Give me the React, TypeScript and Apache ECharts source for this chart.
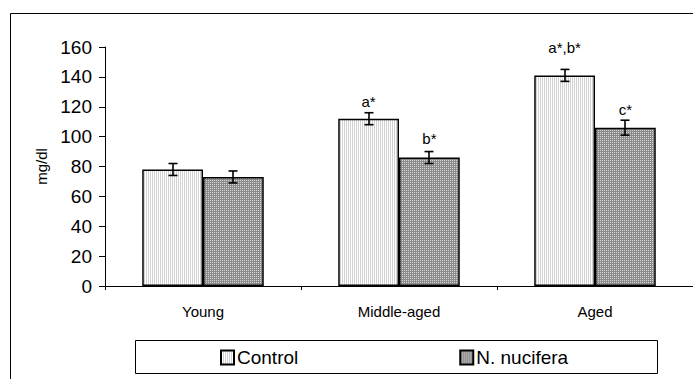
import React, { useEffect, useRef } from "react";
import * as echarts from "echarts";

const categories = ["Young", "Middle-aged", "Aged"];
const controlValues = [78, 112, 141];
const nuciferaValues = [73, 86, 106];
const controlErrors = [4, 4, 4];
const nuciferaErrors = [4, 4, 5];
const controlMarks = ["", "a*", "a*,b*"];
const nuciferaMarks = ["", "b*", "c*"];
const controlMarkGap = [0, 10, 20];
const nuciferaMarkGap = [0, 12, 11];
const seriesNames = ["Control", "N. nucifera"];
const yTicks = { min: 0, max: 160, interval: 20 };

const FONT = "'Liberation Sans', Arial, sans-serif";

function makePattern(kind: "light" | "dark"): any {
  const c = document.createElement("canvas");
  c.width = 2;
  c.height = 2;
  const ctx = c.getContext("2d")!;
  if (kind === "light") {
    ctx.fillStyle = "#ffffff";
    ctx.fillRect(0, 0, 2, 2);
    ctx.fillStyle = "#d0d0d0";
    ctx.fillRect(0, 0, 1, 2);
  } else {
    ctx.fillStyle = "#8a8a8a";
    ctx.fillRect(0, 0, 2, 2);
    ctx.fillStyle = "#d8d8d8";
    ctx.fillRect(0, 0, 1, 1);
  }
  return { image: c, repeat: "repeat" };
}

export default function App() {
  const ref = useRef<HTMLDivElement>(null);
  useEffect(() => {
    if (!ref.current) return;
    const chart = echarts.init(ref.current, null, { renderer: "svg" });
    const barFrac = 0.62;
    const errData: any[] = [];
    categories.forEach((_, i) => {
      errData.push([i, controlValues[i], controlErrors[i], -1]);
      errData.push([i, nuciferaValues[i], nuciferaErrors[i], 1]);
    });
    const mkData = (vals: number[], marks: string[], gaps: number[]) =>
      vals.map((v, i) =>
        marks[i]
          ? {
              value: v,
              label: {
                show: true,
                position: "top",
                formatter: marks[i],
                distance: gaps[i],
                fontFamily: FONT,
                fontSize: 15,
                color: "#000",
              },
            }
          : v
      );
    chart.setOption({
      animation: false,
      backgroundColor: "#ffffff",
      textStyle: { fontFamily: FONT },
      grid: { left: 105, top: 47, width: 592, height: 239, containLabel: false },
      graphic: [
        {
          type: "rect",
          shape: { x: 10.5, y: 13.5, width: 720, height: 420 },
          style: { fill: "none", stroke: "#000", lineWidth: 1 },
          silent: true,
          z: -1,
        },
        {
          type: "rect",
          shape: { x: 135.5, y: 340.5, width: 522, height: 33 },
          style: { fill: "#fff", stroke: "#000", lineWidth: 1 },
          silent: true,
          z: -1,
        },
      ],
      legend: {
        data: seriesNames,
        left: 220,
        top: 348,
        icon: "rect",
        itemWidth: 13,
        itemHeight: 14,
        itemGap: 161,
        padding: 0,
        textStyle: { fontFamily: FONT, fontSize: 19, color: "#000", padding: [0, 0, 0, -2] },
      },
      xAxis: {
        type: "category",
        data: categories,
        axisLine: { lineStyle: { color: "#000", width: 1 } },
        axisTick: { show: true, length: 4, lineStyle: { color: "#000" } },
        axisLabel: { fontFamily: FONT, fontSize: 15, color: "#000", margin: 18 },
      },
      yAxis: {
        type: "value",
        min: yTicks.min,
        max: yTicks.max,
        interval: yTicks.interval,
        name: "mg/dl",
        nameLocation: "middle",
        nameGap: 52,
        nameTextStyle: { fontFamily: FONT, fontSize: 15, color: "#000" },
        axisLine: { show: true, lineStyle: { color: "#000", width: 1 } },
        axisTick: { show: true, length: 6, lineStyle: { color: "#000" } },
        splitLine: { show: false },
        axisLabel: { fontFamily: FONT, fontSize: 19, color: "#000", margin: 13 },
      },
      series: [
        {
          name: seriesNames[0],
          type: "bar",
          data: mkData(controlValues, controlMarks, controlMarkGap),
          barGap: "0%",
          barCategoryGap: "38%",
          itemStyle: { color: makePattern("light"), borderColor: "#000", borderWidth: 1.5 },
        },
        {
          name: seriesNames[1],
          type: "bar",
          data: mkData(nuciferaValues, nuciferaMarks, nuciferaMarkGap),
          barGap: "0%",
          barCategoryGap: "38%",
          itemStyle: { color: makePattern("dark"), borderColor: "#000", borderWidth: 1.5 },
        },
        {
          type: "custom",
          name: "err",
          silent: true,
          z: 10,
          data: errData,
          renderItem: (params: any, api: any) => {
            const i = api.value(0);
            const v = api.value(1);
            const e = api.value(2);
            const side = api.value(3);
            const band = api.size([1, 0])[0];
            const center = api.coord([i, v]);
            const x = Math.round(center[0] + side * band * barFrac / 4);
            const yTop = api.coord([i, v + e])[1];
            const yBot = api.coord([i, v - e])[1];
            const cap = 4.5;
            const st = { stroke: "#000", lineWidth: 1.6 };
            return {
              type: "group",
              children: [
                { type: "line", shape: { x1: x, y1: yTop, x2: x, y2: yBot }, style: st },
                { type: "line", shape: { x1: x - cap, y1: yTop, x2: x + cap, y2: yTop }, style: st },
                { type: "line", shape: { x1: x - cap, y1: yBot, x2: x + cap, y2: yBot }, style: st },
              ],
            };
          },
        },
      ],
    });
    return () => chart.dispose();
  }, []);
  return (
    <div
      ref={ref}
      style={{ position: "fixed", left: 0, top: 0, width: 693, height: 379 }}
    />
  );
}
